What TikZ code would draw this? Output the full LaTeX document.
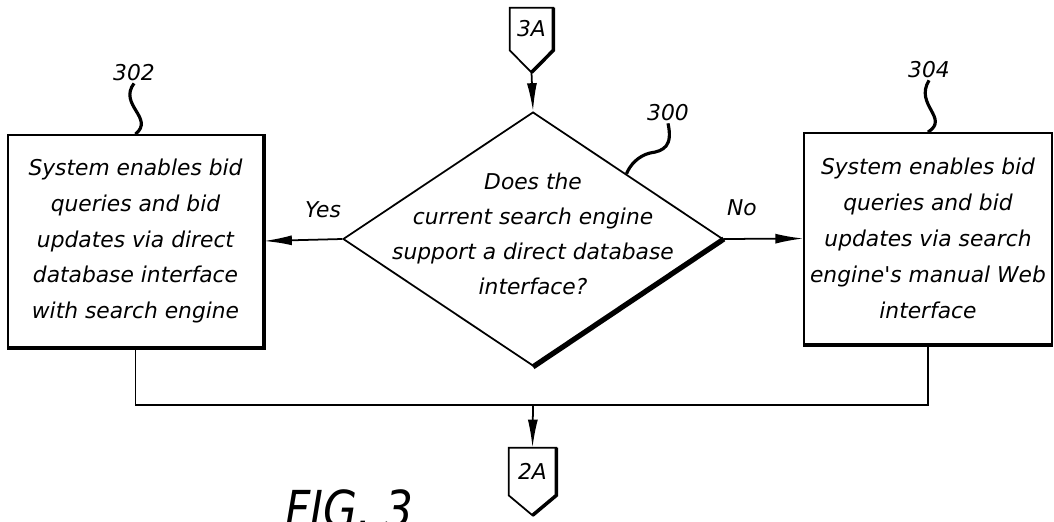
\documentclass[tikz,border=0pt]{standalone}
\usepackage{fontspec}
\setmainfont{DejaVu Sans}
\usetikzlibrary{shapes.geometric,arrows.meta,calc}

\begin{document}
\begin{tikzpicture}[x=0.02cm,y=-0.02cm]
\tikzstyle{stepbox}=[rectangle, draw=black, line width=1pt, minimum width=5.1cm, minimum height=4.24cm, align=center, font=\fontsize{12.4}{20.4}\selectfont\itshape]
\tikzstyle{decision}=[diamond, draw=black, line width=1pt, minimum width=7.6cm, minimum height=5.08cm, inner sep=0pt]
\tikzstyle{txt}=[align=center, inner sep=1pt, font=\fontsize{12.4}{20}\selectfont\itshape]
\tikzstyle{offpage}=[rectangle, minimum width=0.86cm, minimum height=0.84cm, inner sep=0pt, font=\fontsize{12.4}{14}\selectfont\itshape]
\tikzstyle{connect}=[-{Latex[length=0.56cm,width=0.2cm]}, line width=1pt]
\tikzstyle{shadow}=[line width=2pt]
\tikzstyle{leader}=[line width=1.8pt]

	\useasboundingbox (0,0) rectangle (1054,521);

	% decision
	\node[decision] (dec300) at (533,239) {};
	\node[txt] (dec300text) at (533,234) {Does the\\current search engine\\support a direct database\\interface?};
	\node[txt] (lbl300) at (668,113) {300};
	\coordinate (lead300) at ($(dec300.north)!0.49!(dec300.east)$);

	% the two outcomes
	\node[stepbox] (box302) at (135.5,241) {System enables bid\\queries and bid\\updates via direct\\database interface\\with search engine};
	\node[txt] (lbl302) at (134,73) {302};
	\node[stepbox, minimum width=4.92cm, minimum height=4.22cm] (box304) at (928,238.5) {System enables bid\\queries and bid\\updates via search\\engine\textquotesingle s manual Web\\interface};
	\node[txt] (lbl304) at (929,70) {304};

	\node[txt] (yes) at (323,210) {Yes};
	\node[txt] (no) at (742,208) {No};

	% off page connectors
	\node[offpage] (c3A) at (531.5,29) {3A};
	\coordinate (tip3A) at ([yshift=-0.44cm]c3A.south);
	\node[offpage, minimum width=0.94cm, minimum height=0.94cm] (c2A) at (532.5,471.5) {2A};
	\coordinate (tip2A) at ([yshift=-0.4cm]c2A.south);
	\coordinate (join) at (533,405);

	\node[anchor=base west, inner sep=0pt, font=\fontsize{29}{29}\selectfont\itshape] (fig3) at (285,527) {\scalebox{0.86}[1]{FIG. 3}};

	\draw[line width=1pt] (c3A.south west) -- (c3A.north west) -- (c3A.north east) -- (c3A.south east) -- (tip3A) -- cycle;
	\draw[shadow] (c3A.north east) -- (c3A.south east) -- (tip3A);
	\draw[line width=1pt] (c2A.south west) -- (c2A.north west) -- (c2A.north east) -- (c2A.south east) -- (tip2A) -- cycle;
	\draw[shadow] (c2A.north east) -- (c2A.south east) -- (tip2A);

	\draw[line width=3pt] (dec300.south) -- (dec300.east);
	\draw[shadow] (box302.north east) -- (box302.south east) -- (box302.south west);
	\draw[shadow] (box304.south east) -- (box304.south west);

	\draw[leader] (lbl302.south) .. controls (118,105) and (155,118) .. (box302.north);
	\draw[leader] (lbl304.south) .. controls (914,105) and (950,118) .. (box304.north);
	\draw[leader] (lbl300.south) .. controls (673,146) and (664,151) .. (650,153) .. controls (638,156) and (630,165) .. (lead300);

	\path
		(tip3A) edge [connect] (dec300.north)
		(dec300.west) edge [connect] (box302.east)
		(dec300.east) edge [connect] (box304.west)
		(join) edge [connect] (c2A.north);
	\draw[line width=1pt] (box302.south) |- (join) -| (box304.south);

\end{tikzpicture}
\end{document}
